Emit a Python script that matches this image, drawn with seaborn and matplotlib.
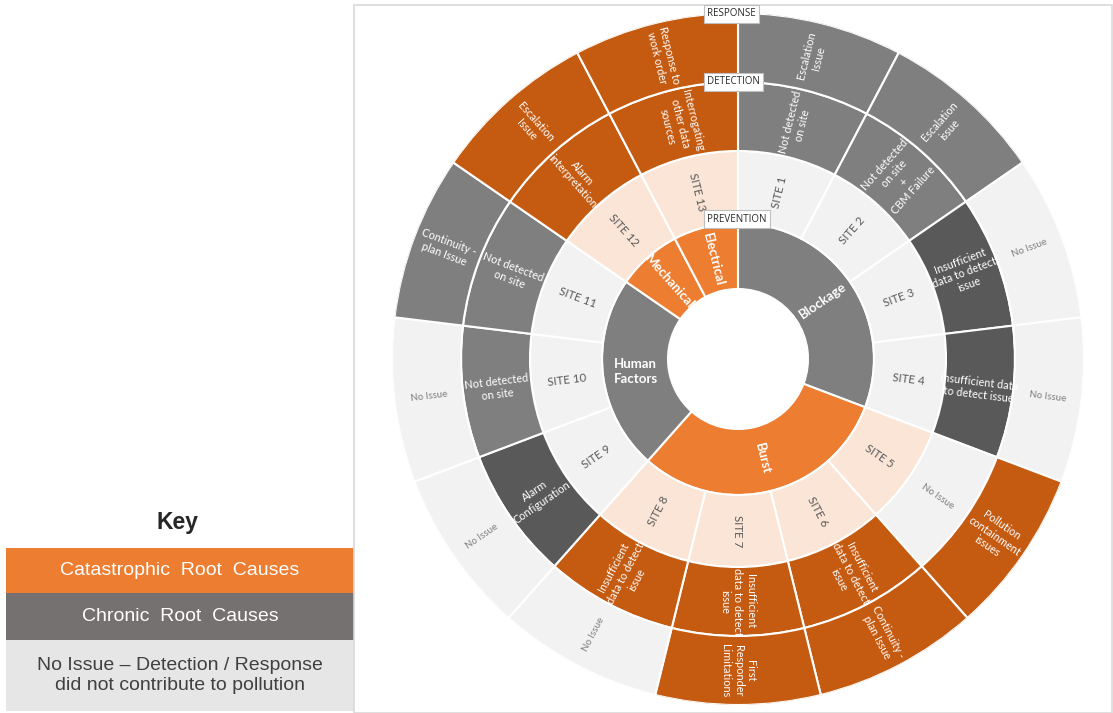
## Pollution root cause sunburst - prevention / detection / response by site

import numpy as np
import matplotlib
matplotlib.use('Agg')
import matplotlib.pyplot as plt
from matplotlib.patches import Rectangle
import seaborn as sns

# ---- data ----
sites = ['SITE 1', 'SITE 2', 'SITE 3', 'SITE 4', 'SITE 5', 'SITE 6', 'SITE 7',
         'SITE 8', 'SITE 9', 'SITE 10', 'SITE 11', 'SITE 12', 'SITE 13']
site_type = ['chronic', 'chronic', 'chronic', 'chronic',
             'catastrophic', 'catastrophic', 'catastrophic', 'catastrophic',
             'chronic', 'chronic', 'chronic', 'catastrophic', 'catastrophic']

prevention_labels = ['Blockage', 'Burst', 'Human\nFactors', 'Mechanical', 'Electrical']
prevention_counts = [4, 4, 3, 1, 1]
prevention_type = ['chronic', 'catastrophic', 'chronic', 'catastrophic', 'catastrophic']

detection_labels = ['Not detected\non site', 'Not detected\non site\n+\nCBM Failure',
                    'Insufficient\ndata to detect\nissue', 'Insufficient data\nto detect issue',
                    'No Issue', 'Insufficient\ndata to detect\nissue',
                    'Insufficient\ndata to detect\nissue', 'Insufficient\ndata to detect\nissue',
                    'Alarm\nConfiguration', 'Not detected\non site', 'Not detected\non site',
                    'Alarm\ninterpretation', 'Interrogating\nother data\nsources']
detection_type = ['chronic', 'chronic', 'chronic_dark', 'chronic_dark', 'none',
                  'cat', 'cat', 'cat', 'chronic_dark', 'chronic', 'chronic', 'cat', 'cat']

response_labels = ['Escalation\nIssue', 'Escalation\nissue', 'No Issue', 'No Issue',
                   'Pollution\ncontainment\nissues', 'Continuity -\nplan Issue',
                   'First\nResponder\nLimitations', 'No Issue', 'No Issue', 'No Issue',
                   'Continuity -\nplan Issue', 'Escalation\nIssue', 'Response to\nwork order']
response_type = ['chronic', 'chronic', 'none', 'none', 'cat', 'cat', 'cat',
                 'none', 'none', 'none', 'chronic', 'cat', 'cat']

ring_names = ['PREVENTION', 'DETECTION', 'RESPONSE']

key_labels = ['Catastrophic  Root  Causes', 'Chronic  Root  Causes',
              'No Issue \u2013 Detection / Response\ndid not contribute to pollution']

# ---- styles ----
prevention_colors = {'chronic': '#7f7f7f', 'catastrophic': '#ed7d31'}
site_colors = {'chronic': '#f2f2f2', 'catastrophic': '#fbe5d6'}
outer_colors = {'chronic': '#7f7f7f', 'chronic_dark': '#595959',
                'cat': '#c55a11', 'none': '#f2f2f2'}
key_colors = ['#ed7d31', '#767171', '#e7e6e6']
key_text_colors = ['white', 'white', '#404040']

# ring radii in pixels (hole, prevention, sites, detection, response)
radii = [70, 136, 208, 277, 346]

sns.set_theme(style='white')
plt.rcParams['font.family'] = ['Lato', 'DejaVu Sans']

W, H = 1113, 713
fig = plt.figure(figsize=(W / 100, H / 100), dpi=100)
fig.patch.set_facecolor('white')

# frame around the chart area
fig.patches.append(Rectangle((354 / W, 0), (W - 355) / W, (H - 5) / H,
                             transform=fig.transFigure, fill=False,
                             edgecolor='#d9d9d9', linewidth=1.2))

cx, cy = 738, H - 359
R = radii[-1]
ax = fig.add_axes([(cx - R) / W, (cy - R) / H, 2 * R / W, 2 * R / H], projection='polar')
ax.set_theta_zero_location('N')
ax.set_theta_direction(-1)
ax.set_ylim(0, R)
ax.set_axis_off()

n = len(sites)
step = 2 * np.pi / n
theta = np.arange(n) * step + step / 2


def radial_rotation(theta_rad):
    a = np.degrees(theta_rad)
    rot = 90 - a
    if rot < -90:
        rot += 180
    return rot


def ring(thetas, widths, r0, r1, colors):
    ax.bar(thetas, r1 - r0, width=widths, bottom=r0, color=colors,
           edgecolor='white', linewidth=1.5, align='center')


def label(t, r, text, color, size, weight='normal', rot=None, spacing=1.2):
    if rot is None:
        rot = radial_rotation(t)
    ax.text(t, r, text, rotation=rot, rotation_mode='anchor', ha='center',
            va='center', color=color, fontsize=size, fontweight=weight,
            linespacing=spacing)


# prevention ring
starts = np.cumsum([0] + prevention_counts[:-1])
p_theta = (starts + np.array(prevention_counts) / 2) * step
p_width = np.array(prevention_counts) * step
ring(p_theta, p_width, radii[0], radii[1], [prevention_colors[t] for t in prevention_type])
for t, lab in zip(p_theta, prevention_labels):
    rot = 0 if '\n' in lab else None
    label(t, (radii[0] + radii[1]) / 2, lab, 'white', 9.5, 'bold', rot, 1.3)

# site ring
ring(theta, step, radii[1], radii[2], [site_colors[t] for t in site_type])
for t, lab in zip(theta, sites):
    label(t, (radii[1] + radii[2]) / 2, lab, '#595959', 8.3)

# detection and response rings
for (r0, r1), labs, types in [((radii[2], radii[3]), detection_labels, detection_type),
                              ((radii[3], radii[4]), response_labels, response_type)]:
    ring(theta, step, r0, r1, [outer_colors[t] for t in types])
    for t, lab, typ in zip(theta, labs, types):
        if typ == 'none':
            label(t, (r0 + r1) / 2, lab, '#7f7f7f', 7)
        else:
            label(t, (r0 + r1) / 2, lab, 'white', 7.8)

# ring name tags at 12 o'clock
for name, r in zip(ring_names, [radii[1] + 4, radii[3], radii[4] - 1]):
    y = (cy + r) / H
    fig.text(707 / W, y, name, ha='left', va='center', fontsize=7, color='#262626',
             family=['Open Sans', 'DejaVu Sans'],
             bbox=dict(boxstyle='square,pad=0.35', fc='white', ec='#bfbfbf', lw=0.8))

# ---- key ----
key_heights = [45, 47, 71]
kax = fig.add_axes([6 / W, 2 / H, 348 / W, sum(key_heights) / H])
edges = np.cumsum([0] + key_heights)
centers = (edges[:-1] + edges[1:]) / 2
kax.barh(centers, 1, height=key_heights, color=key_colors, edgecolor='none', left=0)
kax.set_xlim(0, 1)
kax.set_ylim(sum(key_heights), 0)
kax.set_axis_off()
for c, lab, tc in zip(centers, key_labels, key_text_colors):
    kax.text(0.5, c, lab, ha='center', va='center', color=tc, fontsize=14,
             family=['Liberation Sans', 'DejaVu Sans'], linespacing=1.25)
fig.text(178 / W, 1 - 523 / H, 'Key', ha='center', va='center', fontsize=16.5,
         fontweight='bold', color='#262626', family=['Liberation Sans', 'DejaVu Sans'])

plt.savefig('out.png', dpi=100)
plt.close()
